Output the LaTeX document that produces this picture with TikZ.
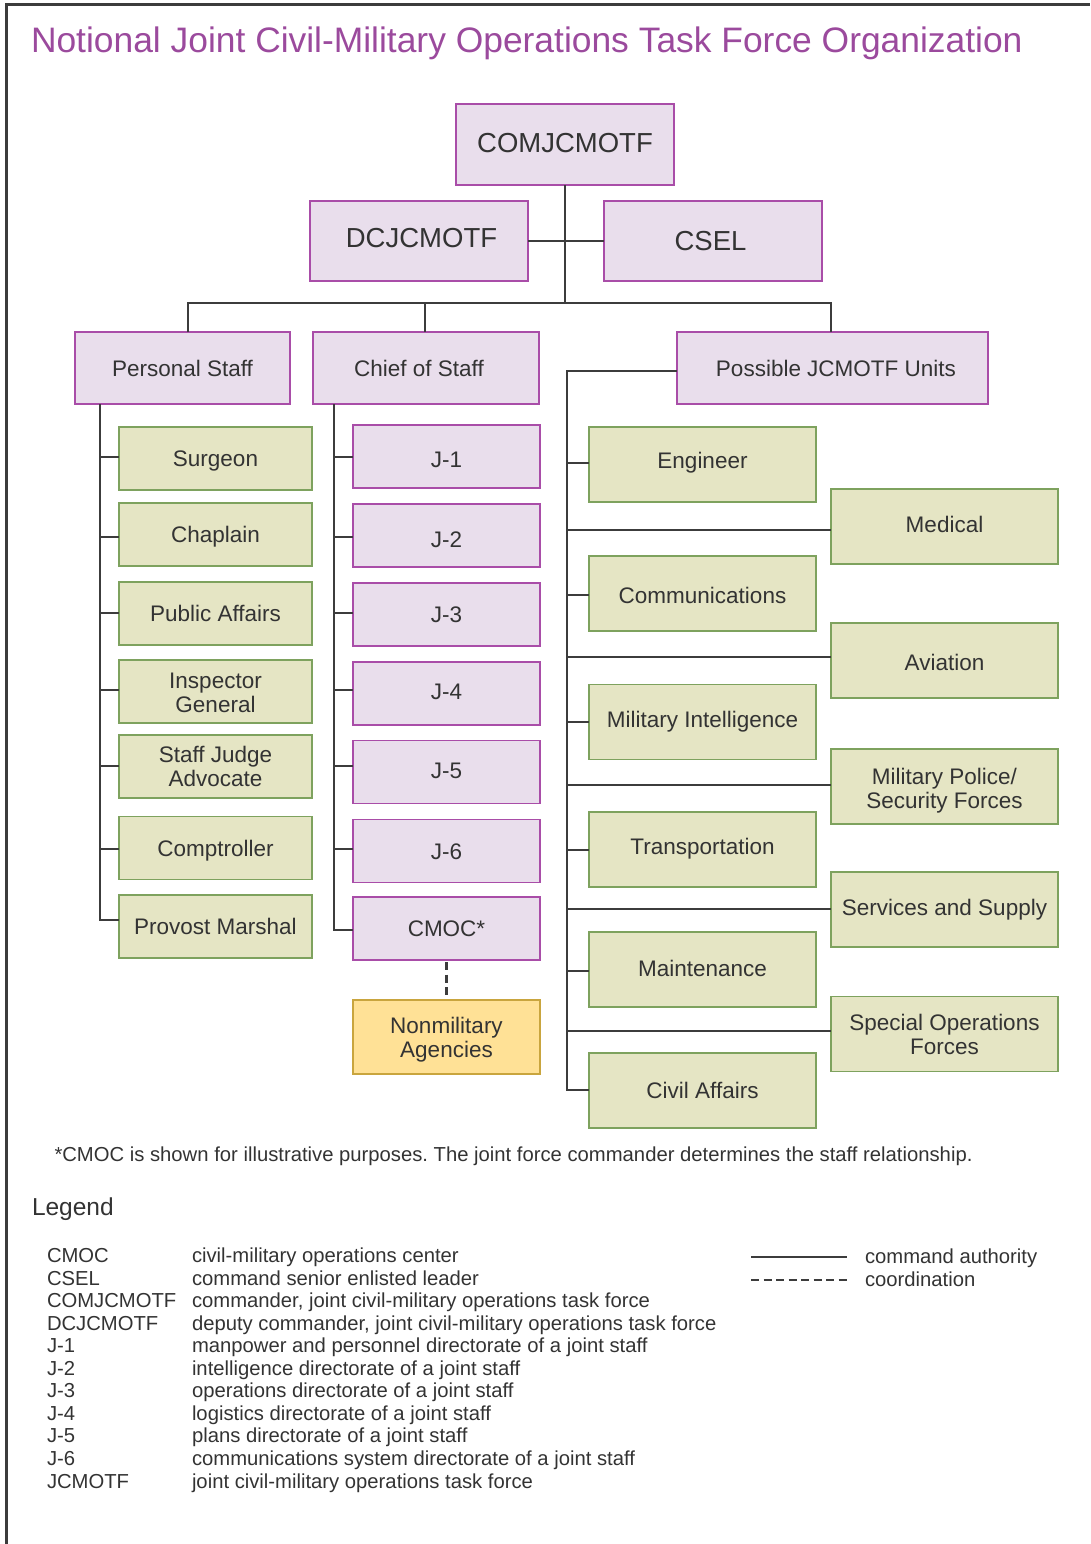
\documentclass[tikz,border=0pt]{standalone}
\usepackage{fontspec}
\setmainfont{Liberation Sans}
\usetikzlibrary{calc}
\definecolor{ttl}{HTML}{9B4A9D}
\definecolor{pfill}{HTML}{E9DEEC}
\definecolor{pdraw}{HTML}{A94DA8}
\definecolor{gfill}{HTML}{E5E5C4}
\definecolor{gdraw}{HTML}{7EA25E}
\definecolor{yfill}{HTML}{FFE196}
\definecolor{ydraw}{HTML}{C9A53E}
\definecolor{ink}{HTML}{333333}
\definecolor{wire}{HTML}{3C3C3C}
\frenchspacing
\begin{document}
\begin{tikzpicture}[x=1pt,y=-1pt,
  every node/.style={text=ink, inner sep=0pt, outer sep=0pt},
  box/.style={rectangle, line width=1.4pt, font=\fontsize{22.5}{24}\selectfont},
  one/.style={text height=16.1pt, text depth=0pt},
  ml/.style={align=center},
  pbox/.style={box, fill=pfill, draw=pdraw},
  gbox/.style={box, fill=gfill, draw=gdraw},
  ybox/.style={box, fill=yfill, draw=ydraw},
  topbox/.style={pbox, font=\fontsize{27.5}{30}\selectfont, text height=19.7pt, text depth=0pt, minimum width=218pt, minimum height=80pt},
  lvl/.style={pbox, one, minimum height=72pt},
  lbox/.style={gbox, minimum width=193pt, minimum height=63pt},
  jbox/.style={pbox, one, minimum width=187pt, minimum height=63pt},
  rbox/.style={gbox, minimum width=227pt, minimum height=75pt},
  cmd/.style={draw=wire, line width=2.4pt},
  crd/.style={draw=wire, line width=2.4pt, dash pattern=on 8pt off 4.5pt},
  lg/.style={anchor=base west, font=\fontsize{20.25}{22}\selectfont}
]
\useasboundingbox (0,0) rectangle (1090,1544);
% frame
\draw[draw=wire, line width=2.2pt] (6.5,1544) -- (6.5,4.5) -- (1090,4.5);
% title
\node[anchor=base west, text=ttl, font=\fontsize{35.4}{40}\selectfont] (title) at (31,52.7) {Notional Joint Civil-Military Operations Task Force Organization};

% top level
\node[topbox, minimum height=81pt, text depth=4pt] (com) at (565,144.5) {COMJCMOTF};
\node[topbox, text depth=6pt] (dc) at (419,241) {\hspace*{5pt}DCJCMOTF};
\node[topbox] (csel) at (713,241) {CSEL\hspace*{5pt}};

\node[lvl, minimum width=215pt] (ps) at (182.5,368) {Personal Staff};
\node[lvl, minimum width=226pt] (cos) at (426,368) {Chief of Staff\hspace*{14pt}};
\node[lvl, minimum width=311pt] (pos) at (832.5,368) {\hspace*{7pt}Possible JCMOTF Units};

% personal staff column
\node[lbox, one] (sur) at (215.5,458.5) {Surgeon};
\node[lbox, one] (cha) at (215.5,534.5) {Chaplain};
\node[lbox, one] (pa) at (215.5,613.5) {Public Affairs};
\node[lbox, ml] (ig) at (215.5,691.5) {Inspector\rule{0pt}{19pt}\\General};
\node[lbox, ml] (sja) at (215.5,766.5) {Staff Judge\\Advocate};
\node[lbox, one] (comp) at (215.5,848) {Comptroller};
\node[lbox, one] (pm) at (215.5,926.5) {Provost Marshal};

% chief of staff column
\node[jbox, text height=22.1pt] (j1) at (446.5,456.5) {J-1};
\node[jbox, text height=24.1pt] (j2) at (446.5,535.5) {J-2};
\node[jbox] (j3) at (446.5,614.5) {J-3};
\node[jbox, text depth=4pt] (j4) at (446.5,693.5) {J-4};
\node[jbox, text depth=4pt] (j5) at (446.5,772) {J-5};
\node[jbox] (j6) at (446.5,851) {J-6};
\node[jbox] (cmoc) at (446.5,928.5) {CMOC*};
\node[ybox, ml, minimum width=187pt, minimum height=74pt] (nma) at (446.5,1037) {Nonmilitary\rule{0pt}{22.5pt}\\Agencies};

% possible units
\node[rbox, one, text depth=8pt] (eng) at (702.5,464.5) {Engineer};
\node[rbox, one, text depth=4pt] (med) at (944.5,526.5) {Medical};
\node[rbox, one, text height=20.1pt] (comm) at (702.5,593.5) {Communications};
\node[rbox, one, text height=20.1pt] (avi) at (944.5,660.5) {Aviation};
\node[rbox, one, text depth=6pt] (mi) at (702.5,722) {Military Intelligence};
\node[rbox, ml] (mp) at (944.5,786.5) {Military Police/\rule{0pt}{24.5pt}\\Security Forces};
\node[rbox, one, text depth=6pt] (tra) at (702.5,849.5) {Transportation};
\node[rbox, one, text depth=4pt] (ss) at (944.5,909.5) {Services and Supply};
\node[rbox, one, text depth=2pt] (mai) at (702.5,969.5) {Maintenance};
\node[rbox, ml] (sof) at (944.5,1034) {Special Operations\\Forces};
\node[rbox, one] (ca) at (702.5,1090.5) {Civil Affairs};

% top connectors
\draw[cmd] (com.south) -- (com.south |- 0,303);
\draw[cmd] (dc.east) -- (csel.west);
\coordinate (busL) at (188,303);
\coordinate (busR) at (831,303);
\draw[cmd] (ps.north -| busL) -- (busL) -- (busR) -- (pos.north -| busR);
\draw[cmd] (cos.north -| 425,0) -- (425,303);

% personal staff spine
\draw[cmd] (ps.south -| 100,0) -- (100,920) -- (pm.west |- 0,920);
\foreach \n/\y in {sur/457, cha/537, pa/613, ig/690, sja/766, comp/849}
  \draw[cmd] (100,\y) -- (\n.west |- 0,\y);

% chief of staff spine
\draw[cmd] (cos.south -| 334,0) -- (334,930) -- (cmoc.west |- 0,930);
\foreach \n/\y in {j1/457, j2/537, j3/613, j4/690, j5/766, j6/849}
  \draw[cmd] (334,\y) -- (\n.west |- 0,\y);
\draw[crd, shorten <=2pt, shorten >=4pt] (cmoc.south) -- (nma.north);

% possible units spine
\draw[cmd] (pos.west |- 0,371) -- (567,371) -- (567,1090) -- (ca.west |- 0,1090);
\foreach \n/\y in {eng/463, comm/595, mi/722, tra/850, mai/971, med/530, avi/657, mp/785, ss/909, sof/1031}
  \draw[cmd] (567,\y) -- (\n.west |- 0,\y);

% footnote
\node[lg] (note) at (54.5,1161.7) {*CMOC is shown for illustrative purposes. The joint force commander determines the staff relationship.};

% legend
\node[anchor=base west, font=\fontsize{24.5}{28}\selectfont] (legend) at (32,1215) {Legend};
\foreach \a/\d [count=\i from 0] in {CMOC/{civil-military operations center}, CSEL/{command senior enlisted leader}, COMJCMOTF/{commander, joint civil-military operations task force}, DCJCMOTF/{deputy commander, joint civil-military operations task force}, J-1/{manpower and personnel directorate of a joint staff}, J-2/{intelligence directorate of a joint staff}, J-3/{operations directorate of a joint staff}, J-4/{logistics directorate of a joint staff}, J-5/{plans directorate of a joint staff}, J-6/{communications system directorate of a joint staff}, JCMOTF/{joint civil-military operations task force}}
{
  \node[lg] (ab\i) at (47,1262.5+22.55*\i) {\a};
  \node[lg] (de\i) at (192,1262.5+22.55*\i) {\d};
}
\coordinate (ls1) at (751,1257);
\coordinate (le1) at (847,1257);
\coordinate (ls2) at (751,1280);
\coordinate (le2) at (847,1280);
\draw[cmd] (ls1) -- (le1);
\draw[crd] (ls2) -- (le2);
\node[lg] (lca) at (865,1263) {command authority};
\node[lg] (lco) at (865,1286) {coordination};
\end{tikzpicture}
\end{document}
